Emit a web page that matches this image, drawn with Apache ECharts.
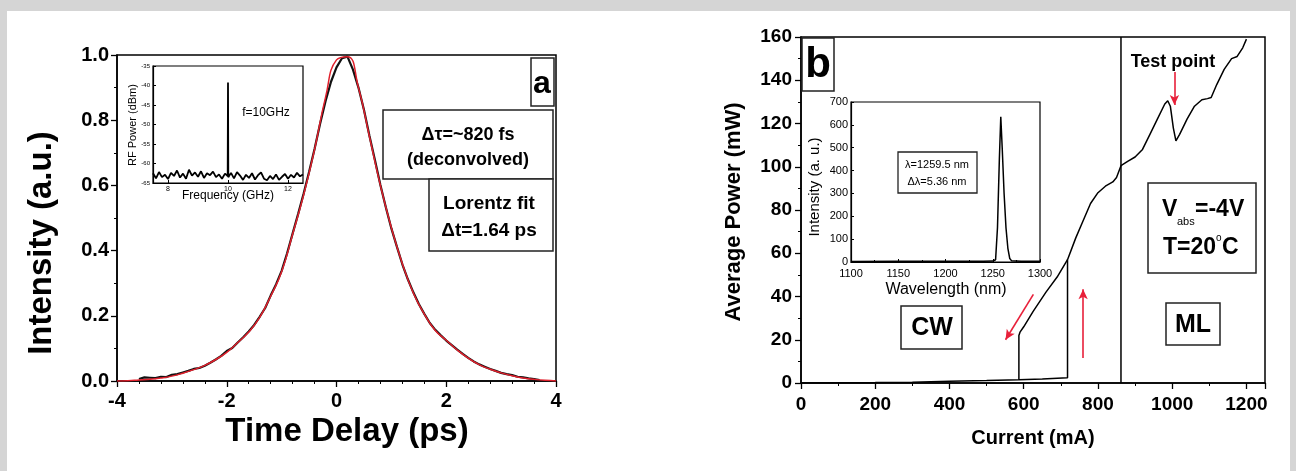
<!DOCTYPE html>
<html><head><meta charset="utf-8">
<script src="https://cdn.jsdelivr.net/npm/echarts@6/dist/echarts.min.js"></script>
<style>html,body{margin:0;padding:0;background:#fff}#c{width:1296px;height:471px}</style>
</head><body><div id="c"></div>
<script>
// ---------- Panel a: autocorrelation ----------
const delayMeasured = [-3.6,-3.5,-3.4,-3.3,-3.2,-3.1,-3.0,-2.9,-2.8,-2.7,-2.6,-2.5,-2.4,-2.3,-2.2,-2.1,-2.0,-1.9,-1.8,-1.7,-1.6,-1.5,-1.4,-1.3,-1.2,-1.1,-1.0,-0.9,-0.8,-0.7,-0.6,-0.5,-0.4,-0.3,-0.2,-0.1,0.0,0.1,0.2,0.3,0.4,0.5,0.6,0.7,0.8,0.9,1.0,1.1,1.2,1.3,1.4,1.5,1.6,1.7,1.8,1.9,2.0,2.1,2.2,2.3,2.4,2.5,2.6,2.7,2.8,2.9,3.0,3.1,3.2,3.3,3.4,3.5,3.6,3.7];
const intensityMeasured = [0.006,0.011,0.010,0.009,0.013,0.012,0.019,0.021,0.026,0.031,0.037,0.040,0.047,0.056,0.066,0.077,0.092,0.101,0.118,0.134,0.152,0.172,0.197,0.224,0.262,0.297,0.338,0.392,0.452,0.512,0.574,0.641,0.712,0.788,0.858,0.918,0.962,0.99,0.995,0.955,0.9,0.832,0.752,0.678,0.601,0.532,0.468,0.412,0.358,0.312,0.272,0.236,0.206,0.178,0.157,0.14,0.124,0.11,0.096,0.083,0.071,0.06,0.051,0.044,0.037,0.031,0.025,0.021,0.018,0.013,0.011,0.008,0.006,0.003];
const delayFit = [-4.0,-3.8,-3.6,-3.4,-3.2,-3.0,-2.8,-2.6,-2.4,-2.2,-2.0,-1.8,-1.6,-1.4,-1.2,-1.0,-0.8,-0.6,-0.4,-0.2,0.0,0.2,0.4,0.6,0.8,1.0,1.2,1.4,1.6,1.8,2.0,2.2,2.4,2.6,2.8,3.0,3.2,3.4,3.6,3.8,4.0];
const intensityFit = [0,0.001,0.003,0.005,0.009,0.015,0.024,0.035,0.048,0.066,0.088,0.118,0.15,0.195,0.26,0.335,0.45,0.57,0.71,0.87,0.985,0.995,0.9,0.75,0.6,0.47,0.36,0.27,0.205,0.155,0.125,0.095,0.07,0.05,0.036,0.025,0.016,0.009,0.005,0.002,0];
const delayTicks = [-4,-2,0,2,4];
// inset a: RF spectrum
const rfFreq = [7.5,7.6,7.7,7.8,7.9,8.0,8.1,8.2,8.3,8.4,8.5,8.6,8.7,8.8,8.9,9.0,9.1,9.2,9.3,9.4,9.5,9.6,9.7,9.8,9.9,9.99,10.0,10.01,10.1,10.2,10.3,10.4,10.5,10.6,10.7,10.8,10.9,11.0,11.1,11.2,11.3,11.4,11.5,11.6,11.7,11.8,11.9,12.0,12.1,12.2,12.3,12.4,12.5];
const rfPower = [-62.5,-63.8,-62.2,-63.5,-62.9,-64.0,-62.4,-63.2,-61.8,-63.6,-62.6,-63.9,-61.6,-63.1,-62.3,-63.4,-62.0,-63.7,-62.5,-63.0,-62.1,-63.5,-62.8,-63.9,-62.6,-63.2,-39.2,-63.5,-62.4,-63.8,-62.2,-63.1,-64.2,-62.9,-63.7,-62.5,-64.1,-63.0,-62.3,-63.9,-64.3,-63.2,-64.0,-62.8,-64.2,-63.4,-62.7,-63.9,-62.9,-63.6,-62.4,-63.3,-62.8];
const rfFreqTicks = [8,10,12];

// ---------- Panel b: L-I curve ----------
const currentUp = [0,100,200,300,400,500,587,650,718,718,740,760,780,800,820,840,850,862,880,900,920,940,960,980,988,995,1003,1010,1020,1040,1060,1080,1095,1105,1120,1140,1160,1175,1190,1200];
const powerUp = [0,0.1,0.2,0.4,0.8,1.1,1.5,1.9,2.4,57,67,75,83,88,91,93,95,100.5,102.5,104.5,108,115,122,129,130.5,128,118,112,115,122,128,131,131.5,132,138,145,150,151,155,159];
const currentDown = [587,587,590,600,625,660,690,718];
const powerDown = [1.5,22,23.5,26,33,42,49,57];
const mlBoundary = [862,862];
const mlBoundaryPower = [0,160];
// inset b: optical spectrum
const wavelength = [1100,1150,1200,1240,1250,1253,1255,1257,1258.5,1260,1262,1264,1266,1268,1270,1280,1300];
const specIntensity = [2,3,3,3,4,10,150,450,635,500,300,150,60,15,5,3,3];
// annotation arrows [from, to] in data units
const arrowDown = [[626,41],[551,20]];
const arrowUp = [[760,11.6],[760,43.3]];
const arrowTest = [[1006,143.8],[1006,128.6]];

const F = 'Liberation Sans, Arial, sans-serif';
const zip = (a,b) => a.map((v,i)=>[v,b[i]]);
const plain = v => String(v);

function mainAxis(gi, opt) { return Object.assign({
  type:'value', gridIndex:gi,
  axisLine:{show:true,onZero:false,lineStyle:{color:'#000',width:1.5}},
  axisTick:{show:true,inside:false,length:6,lineStyle:{color:'#000',width:1.3}},
  minorTick:{show:true,length:3,lineStyle:{color:'#000',width:1}},
  splitLine:{show:false},
  axisLabel:{color:'#000',fontFamily:F,fontWeight:'bold',fontSize:19}
}, opt); }
function insetAxis(gi, opt, fs) { return Object.assign({
  type:'value', gridIndex:gi,
  axisLine:{show:true,onZero:false,lineStyle:{color:'#000',width:1.2}},
  axisTick:{show:true,inside:true,length:3,lineStyle:{color:'#000',width:1}},
  minorTick:{show:true,length:2,lineStyle:{color:'#000',width:0.8}},
  splitLine:{show:false},
  axisLabel:{color:'#000',fontFamily:F,fontSize:fs,margin:3,formatter:plain}
}, opt); }

const grids = [
  {left:117, top:55, width:439, height:326},
  {left:153, top:66, width:150, height:117},
  {left:801, top:37, width:464, height:346},
  {left:851, top:102, width:189, height:160}
];
grids.forEach(g=>{g.show=true;g.borderColor='#000';g.borderWidth=1.5;g.backgroundColor='#fff';g.containLabel=false;});
grids[1].borderWidth=1.2; grids[3].borderWidth=1.2;

const option = {
  animation:false,
  backgroundColor:'#fff',
  grid: grids,
  xAxis:[
    mainAxis(0,{min:-4,max:4,interval:2,minorTick:{show:true,splitNumber:5,length:3,lineStyle:{color:'#000'}},axisLabel:{color:'#000',fontFamily:F,fontWeight:'bold',fontSize:20,margin:10,formatter:plain}}),
    insetAxis(1,{min:7.5,max:12.5,axisTick:{show:true,inside:true,length:3,customValues:rfFreqTicks,lineStyle:{color:'#000'}},minorTick:{show:false},axisLabel:{color:'#000',fontFamily:F,fontSize:7,margin:3,customValues:rfFreqTicks,formatter:plain}},7),
    mainAxis(2,{min:0,max:1250,interval:200,minorTick:{show:true,splitNumber:2,length:3,lineStyle:{color:'#000'}},axisLabel:{color:'#000',fontFamily:F,fontWeight:'bold',fontSize:19,margin:12,showMaxLabel:false,formatter:plain}}),
    insetAxis(3,{min:1100,max:1300,interval:50,minorTick:{show:true,splitNumber:2,length:2,lineStyle:{color:'#000'}},axisLabel:{color:'#000',fontFamily:F,fontSize:11,margin:6,formatter:plain}},11)
  ],
  yAxis:[
    mainAxis(0,{min:0,max:1,interval:0.2,minorTick:{show:true,splitNumber:2,length:3,lineStyle:{color:'#000'}},axisLabel:{color:'#000',fontFamily:F,fontWeight:'bold',fontSize:20,margin:8,formatter:v=>v.toFixed(1)}}),
    insetAxis(1,{min:-65,max:-35,interval:5,minorTick:{show:false}},6),
    mainAxis(2,{min:0,max:160,interval:20,minorTick:{show:true,splitNumber:2,length:3,lineStyle:{color:'#000'}},axisLabel:{color:'#000',fontFamily:F,fontWeight:'bold',fontSize:19,margin:9,formatter:plain}}),
    insetAxis(3,{min:0,max:700,interval:100,minorTick:{show:false}},11)
  ],
  series:[
    {type:'line',xAxisIndex:0,yAxisIndex:0,data:zip(delayMeasured,intensityMeasured),showSymbol:false,lineStyle:{color:'#111',width:2.2},z:2},
    {type:'line',xAxisIndex:0,yAxisIndex:0,data:zip(delayFit,intensityFit),smooth:true,showSymbol:false,lineStyle:{color:'#e0202c',width:1.5},z:3},
    {type:'line',xAxisIndex:1,yAxisIndex:1,data:zip(rfFreq,rfPower),showSymbol:false,lineStyle:{color:'#000',width:1.8}},
    {type:'line',xAxisIndex:2,yAxisIndex:2,data:zip(currentUp,powerUp),showSymbol:false,lineStyle:{color:'#000',width:1.5}},
    {type:'line',xAxisIndex:2,yAxisIndex:2,data:zip(currentDown,powerDown),showSymbol:false,lineStyle:{color:'#000',width:1.5}},
    {type:'line',xAxisIndex:2,yAxisIndex:2,data:zip(mlBoundary,mlBoundaryPower),showSymbol:false,lineStyle:{color:'#000',width:1.5},
      markLine:{silent:true,symbol:['none','arrow'],symbolSize:[7,10],label:{show:false},lineStyle:{color:'#e8203a',width:1.6,type:'solid'},
        data:[arrowDown,arrowUp,arrowTest].map(a=>[{coord:a[0]},{coord:a[1]}])}},
    {type:'line',xAxisIndex:3,yAxisIndex:3,data:zip(wavelength,specIntensity),showSymbol:false,lineStyle:{color:'#000',width:1.5}}
  ],
  graphic:[
    {type:'rect',shape:{x:0,y:0,width:1296,height:11},style:{fill:'#d5d5d5'},z:100},
    {type:'rect',shape:{x:0,y:0,width:7,height:471},style:{fill:'#d5d5d5'},z:100},
    {type:'rect',shape:{x:1290,y:0,width:6,height:471},style:{fill:'#d5d5d5'},z:100},
    // panel a labels
    {type:'text',x:42,y:243,rotation:Math.PI/2,style:{text:'Intensity (a.u.)',font:'bold 33px '+F,fill:'#000',align:'center',verticalAlign:'middle'},z:100},
    {type:'text',x:347,y:432,style:{text:'Time Delay (ps)',font:'bold 33px '+F,fill:'#000',align:'center',verticalAlign:'middle'},z:100},
    {type:'text',x:133,y:125,rotation:Math.PI/2,style:{text:'RF Power (dBm)',font:'11px '+F,fill:'#000',align:'center',verticalAlign:'middle'},z:100},
    {type:'text',x:228,y:196,style:{text:'Frequency (GHz)',font:'12px '+F,fill:'#000',align:'center',verticalAlign:'middle'},z:100},
    {type:'text',x:266,y:113,style:{text:'f=10GHz',font:'12px '+F,fill:'#000',align:'center',verticalAlign:'middle'},z:100},
    {type:'rect',shape:{x:531,y:58,width:23,height:48},style:{fill:'#fff',stroke:'#222',lineWidth:1.5},z:100},
    {type:'text',x:542,y:84,style:{text:'a',font:'bold 32px '+F,fill:'#000',align:'center',verticalAlign:'middle'},z:101},
    {type:'rect',shape:{x:383,y:110,width:170,height:69},style:{fill:'#fff',stroke:'#222',lineWidth:1.5},z:100},
    {type:'text',x:468,y:135,style:{text:'Δτ=~820 fs',font:'bold 18px '+F,fill:'#000',align:'center',verticalAlign:'middle'},z:101},
    {type:'text',x:468,y:160,style:{text:'(deconvolved)',font:'bold 18px '+F,fill:'#000',align:'center',verticalAlign:'middle'},z:101},
    {type:'rect',shape:{x:429,y:179,width:124,height:72},style:{fill:'#fff',stroke:'#222',lineWidth:1.5},z:100},
    {type:'text',x:489,y:204,style:{text:'Lorentz fit',font:'bold 19px '+F,fill:'#000',align:'center',verticalAlign:'middle'},z:101},
    {type:'text',x:489,y:231,style:{text:'Δt=1.64 ps',font:'bold 19px '+F,fill:'#000',align:'center',verticalAlign:'middle'},z:101},
    // panel b labels
    {type:'text',x:734,y:212,rotation:Math.PI/2,style:{text:'Average Power (mW)',font:'bold 22px '+F,fill:'#000',align:'center',verticalAlign:'middle'},z:100},
    {type:'text',x:1033,y:438,style:{text:'Current (mA)',font:'bold 20px '+F,fill:'#000',align:'center',verticalAlign:'middle'},z:100},
    {type:'text',x:815,y:187,rotation:Math.PI/2,style:{text:'Intensity (a. u.)',font:'15px '+F,fill:'#000',align:'center',verticalAlign:'middle'},z:100},
    {type:'text',x:946,y:290,style:{text:'Wavelength (nm)',font:'16px '+F,fill:'#000',align:'center',verticalAlign:'middle'},z:100},
    {type:'rect',shape:{x:898,y:152,width:79,height:41},style:{fill:'#fff',stroke:'#222',lineWidth:1.3},z:100},
    {type:'text',x:937,y:165,style:{text:'λ=1259.5 nm',font:'11px '+F,fill:'#000',align:'center',verticalAlign:'middle'},z:101},
    {type:'text',x:937,y:182,style:{text:'Δλ=5.36 nm',font:'11px '+F,fill:'#000',align:'center',verticalAlign:'middle'},z:101},
    {type:'rect',shape:{x:802,y:38,width:32,height:53},style:{fill:'#fff',stroke:'#222',lineWidth:1.5},z:100},
    {type:'text',x:818,y:65,style:{text:'b',font:'bold 42px '+F,fill:'#000',align:'center',verticalAlign:'middle'},z:101},
    {type:'rect',shape:{x:901,y:306,width:61,height:43},style:{fill:'#fff',stroke:'#222',lineWidth:1.5},z:100},
    {type:'text',x:932,y:328,style:{text:'CW',font:'bold 25px '+F,fill:'#000',align:'center',verticalAlign:'middle'},z:101},
    {type:'rect',shape:{x:1166,y:303,width:54,height:42},style:{fill:'#fff',stroke:'#222',lineWidth:1.5},z:100},
    {type:'text',x:1193,y:325,style:{text:'ML',font:'bold 25px '+F,fill:'#000',align:'center',verticalAlign:'middle'},z:101},
    {type:'rect',shape:{x:1148,y:183,width:108,height:90},style:{fill:'#fff',stroke:'#222',lineWidth:1.5},z:100},
    {type:'text',x:1162,y:210,style:{text:'V',font:'bold 23px '+F,fill:'#000',align:'left',verticalAlign:'middle'},z:101},
    {type:'text',x:1177,y:222,style:{text:'abs',font:'11px '+F,fill:'#000',align:'left',verticalAlign:'middle'},z:101},
    {type:'text',x:1195,y:210,style:{text:'=-4V',font:'bold 23px '+F,fill:'#000',align:'left',verticalAlign:'middle'},z:101},
    {type:'text',x:1163,y:248,style:{text:'T=20',font:'bold 23px '+F,fill:'#000',align:'left',verticalAlign:'middle'},z:101},
    {type:'text',x:1216,y:238,style:{text:'o',font:'10px '+F,fill:'#000',align:'left',verticalAlign:'middle'},z:101},
    {type:'text',x:1222,y:248,style:{text:'C',font:'bold 23px '+F,fill:'#000',align:'left',verticalAlign:'middle'},z:101},
    {type:'text',x:1173,y:62,style:{text:'Test point',font:'bold 18px '+F,fill:'#000',align:'center',verticalAlign:'middle'},z:101}
  ]
};
const chart = echarts.init(document.getElementById('c'),null,{renderer:'canvas'});
chart.setOption(option);
</script>
</body></html>
